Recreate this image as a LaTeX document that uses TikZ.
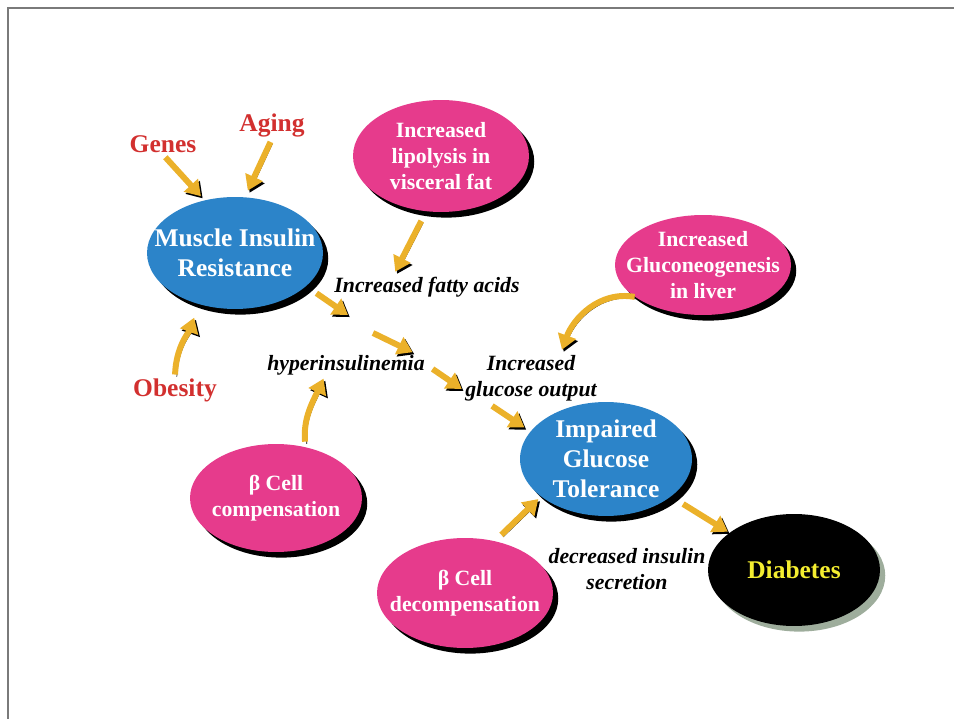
\documentclass[tikz,border=0pt]{standalone}
\usepackage{fontspec}
\setmainfont{Liberation Serif}
\usepackage{tikz}
\usetikzlibrary{positioning,shapes.geometric,arrows.meta,shadows}

\definecolor{cellpink}{HTML}{E63B8C}
\definecolor{cellblue}{HTML}{2C84C9}
\definecolor{arrowgold}{HTML}{EBB12A}
\definecolor{causered}{HTML}{D2302F}
\definecolor{diabshade}{HTML}{9EAD9C}
\definecolor{diabyellow}{HTML}{F4EE30}
\definecolor{framegray}{HTML}{7A7A7A}

\begin{document}
\begin{tikzpicture}[x=0.02cm, y=-0.02cm,
ovalnode/.style={ellipse, inner sep=-40pt, align=center, text=white, minimum width=3.52cm, minimum height=2.24cm},
bluenode/.style={ovalnode, fill=cellblue, font=\bfseries\fontsize{14.5}{17}\selectfont, drop shadow={shadow xshift=3pt, shadow yshift=-3.2pt, fill=black, opacity=1}},
pinknode/.style={ovalnode, fill=cellpink, font=\bfseries\fontsize{12.4}{14.8}\selectfont, drop shadow={shadow xshift=3pt, shadow yshift=-3.2pt, fill=black, opacity=1}},
endnode/.style={ovalnode, fill=black, text=diabyellow, font=\bfseries\fontsize{14.5}{17}\selectfont, drop shadow={shadow xshift=3pt, shadow yshift=-3.2pt, fill=diabshade, opacity=1}},
causelabel/.style={text=causered, font=\bfseries\fontsize{14.5}{17}\selectfont, inner sep=1pt},
steplabel/.style={font=\bfseries\itshape\fontsize{12.4}{14.8}\selectfont, align=center, inner sep=1pt},
goldarrow/.style={draw=arrowgold, line width=3.4pt, -{Triangle[width=10.5pt,length=8.5pt]}, preaction={draw=black, transform canvas={xshift=1pt, yshift=-1.2pt}}},
]
\useasboundingbox (0,0) rectangle (954,719);
\draw[framegray, line width=1.2pt] (8,719) -- (8,8) -- (954,8);

%Nodes
\node[bluenode]                                  (mir)    at (235,253) {Muscle Insulin\\Resistance};
\node[pinknode]                                  (lipo)   at (441,156) {Increased\\lipolysis in\\visceral fat};
\node[pinknode, minimum height=2cm]              (gluco)  at (703,265) {Increased\\Gluconeogenesis\\in liver};
\node[bluenode, minimum width=3.44cm, minimum height=2.28cm] (igt) at (606,459) {Impaired\\Glucose\\Tolerance};
\node[pinknode, minimum width=3.44cm, minimum height=2.16cm] (comp) at (276,498) {β Cell\\compensation};
\node[pinknode, minimum height=2.2cm]            (decomp) at (465,593) {β Cell\\decompensation};
\node[endnode, minimum width=3.44cm]             (diab)   at (794,570) {Diabetes};

\node[causelabel] (genes)   at (163,144) {Genes};
\node[causelabel] (aging)   at (272,125) {Aging};
\node[causelabel] (obesity) at (175,390) {Obesity};
\node[steplabel]  (fatty)   at (427,287) {Increased fatty acids};
\node[steplabel]  (hyper)   at (346,365) {hyperinsulinemia};
\node[steplabel]  (gout)    at (531,378) {Increased\\glucose output};
\node[steplabel]  (decr)    at (627,569) {decreased insulin\\secretion};

\coordinate (mirend)   at (348,315);
\coordinate (fatstart) at (373,333);

%Lines
\draw[goldarrow, shorten <=2pt, shorten >=3pt] (genes.south) -- (mir.120);
\draw[goldarrow, shorten <=2pt, shorten >=4pt] (aging.south) -- (mir.80);
\draw[goldarrow, shorten <=1pt, shorten >=8pt] (obesity.north) to[out=88, in=250] (mir.235);
\draw[goldarrow, shorten <=6pt, shorten >=2pt] (lipo.255) -- (fatty.160);
\draw[goldarrow, shorten <=7pt] (mir.-25) -- (mirend);
\draw[goldarrow, shorten >=1pt] (fatstart) -- (hyper.10);
\draw[goldarrow, shorten <=4pt, shorten >=1pt] (hyper.east) -- (gout.190);
\draw[goldarrow, shorten <=3pt, shorten >=4pt] (gout.-150) -- (igt.160);
\draw[goldarrow, shorten >=2pt] (gluco.205) to[out=170, in=70] (gout.40);
\draw[goldarrow, shorten <=3pt, shorten >=1pt] (comp.60) to[out=95, in=245] (hyper.-151);
\draw[goldarrow, shorten <=5pt, shorten >=2pt] (decomp.60) -- (igt.210);
\draw[goldarrow, shorten <=8pt, shorten >=1pt] (igt.-30) -- (diab.150);

\end{tikzpicture}
\end{document}
